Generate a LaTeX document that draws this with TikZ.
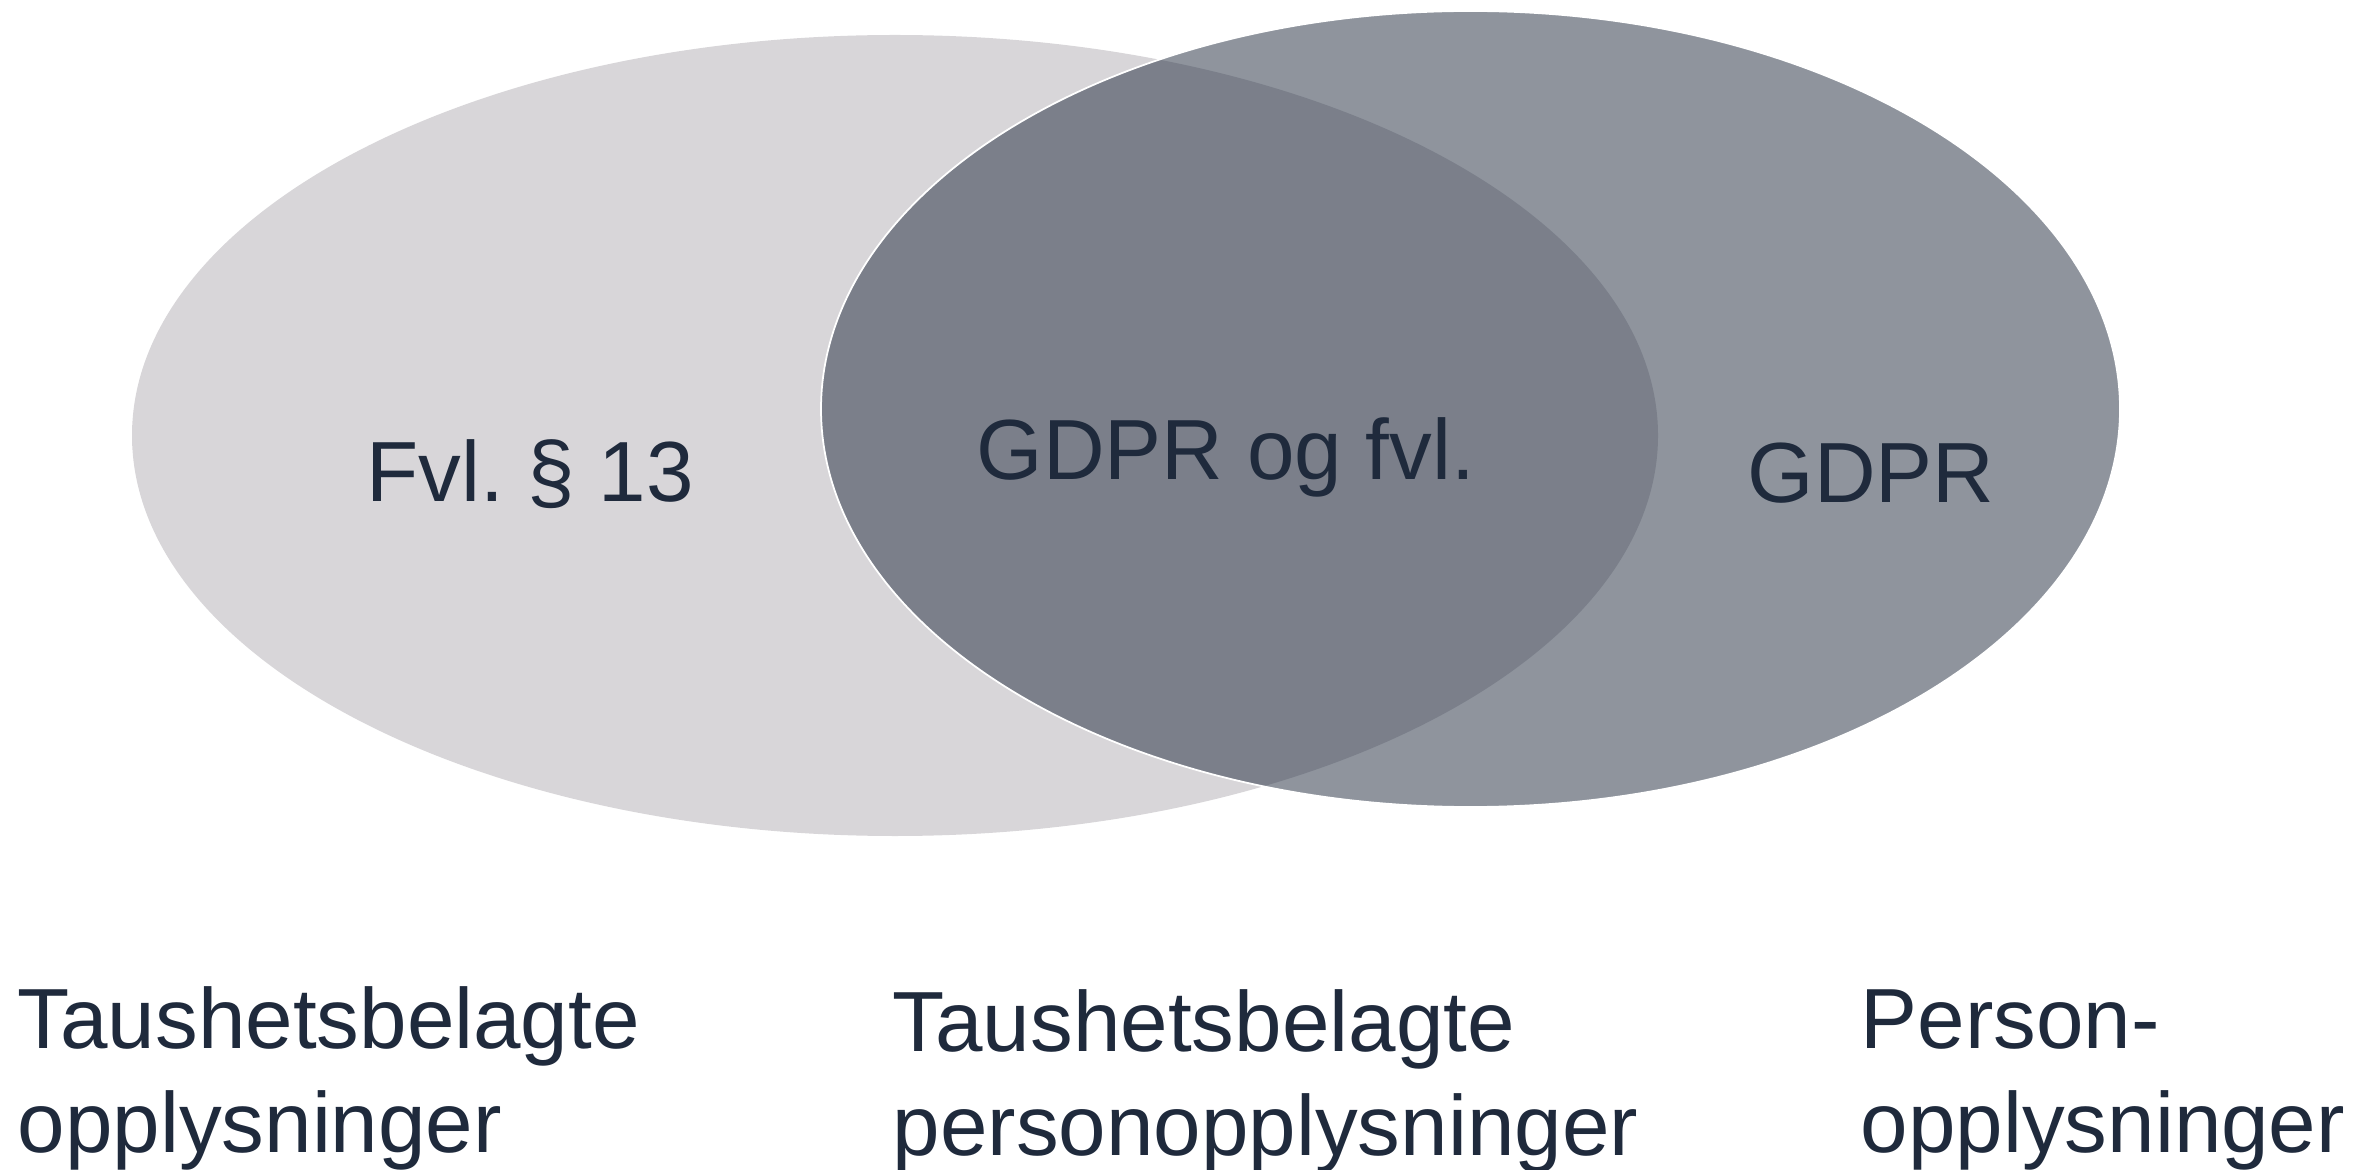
\documentclass[tikz,border=0pt]{standalone}
\usepackage{fontspec}
\setmainfont{Liberation Sans}
\usepackage{tikz}
\usetikzlibrary{positioning,shapes.geometric}

\definecolor{inktxt}{RGB}{31,42,60}
\definecolor{lightset}{RGB}{216,214,217}

\begin{document}
\begin{tikzpicture}[
  setleft/.style={ellipse, fill=lightset, inner sep=0pt,
                  minimum width=15.26cm, minimum height=8.01cm},
  setright/.style={ellipse, fill=inktxt, fill opacity=0.5, draw=white, line width=0.5pt,
                   inner sep=0pt, minimum width=12.99cm, minimum height=7.96cm},
  setlabel/.style={text=inktxt, font=\fontsize{24.3}{29}\selectfont, inner sep=0pt},
  caption/.style={text=inktxt, font=\fontsize{24.3}{29.5}\selectfont, inner sep=0pt,
                  align=left, anchor=base west}
]
\useasboundingbox (0,0) rectangle (23.74,-11.70);

% Sets
\node[setleft] (taus) at (8.95,-4.355) {};
\node[setright] (pers) at (14.705,-4.09) {};

% Labels inside the sets
\node[setlabel, anchor=base] (fvl) at (5.30,-5.02) {Fvl.\ § 13};
\node[setlabel, anchor=base] (both) at (12.26,-4.80) {GDPR og fvl.};
\node[setlabel, anchor=base] (gdpr) at (18.71,-5.03) {GDPR};

% Captions
\node[caption] (captaus) at (0.17,-11.52) {Taushetsbelagte\\opplysninger};
\node[caption] (capboth) at (8.92,-11.55) {Taushetsbelagte\\personopplysninger};
\node[caption] (cappers) at (18.60,-11.52) {Person-\\opplysninger};

\end{tikzpicture}
\end{document}
